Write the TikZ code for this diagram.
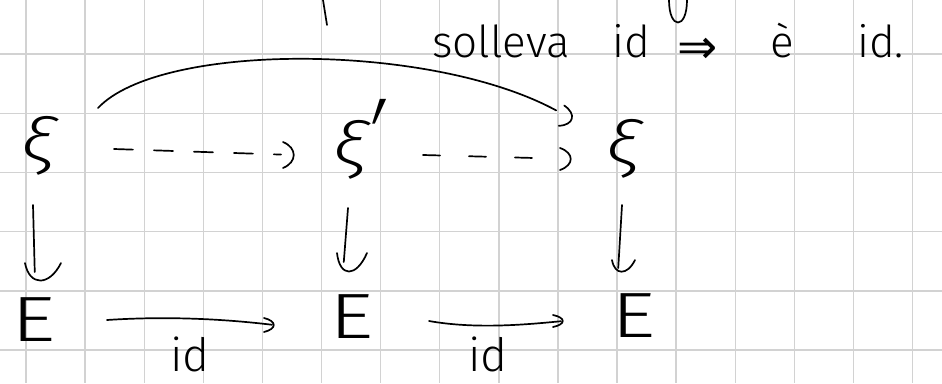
\documentclass[tikz,border=0pt]{standalone}
\usepackage{fontspec}
\setmainfont{Fira Sans}[UprightFont={* Light},ItalicFont={* Light Italic}]
\newfontfamily\symfont{DejaVu Sans}
\definecolor{gridgray}{RGB}{210,210,210}
\newcommand{\bigxi}{\fontsize{62}{62}\selectfont\itshape}
\newcommand{\bigE}{\fontsize{64}{64}\selectfont}
\newcommand{\notefont}{\fontsize{44}{44}\selectfont}
\newcommand{\labfont}{\fontsize{46}{46}\selectfont}
\newcommand{\wideE}{\scalebox{1.35}[1]{E}}
\newcommand{\widexi}{\scalebox{1.25}[1]{ξ}}
% hand-drawn ")" tip: apex at #1, pointing along canvas angle #2,
% arm extents #3 and #4 on either side, depth #5
\newcommand{\handtip}[5]{%
  \draw[ink, shift={(#1)}, rotate=#2]
    (-#5,-#3) .. controls ({0.3*#5},{-0.55*#3}) and ({0.3*#5},{0.55*#4}) .. (-#5,#4);}
\begin{document}
\begin{tikzpicture}[x=1pt,y=-1pt,
  ink/.style={line width=1.7pt, line cap=round, line join=round, black},
  gridline/.style={line width=1.4pt, gridgray},
  sym/.style={inner sep=0pt, outer sep=0pt},
  note/.style={inner sep=0pt, anchor=base west, font=\notefont},
  lab/.style={inner sep=0pt, anchor=base, font=\labfont}]
  % page and squared paper
  \fill[white] (0,0) rectangle (942,383);
  \useasboundingbox (0,0) rectangle (942,383);
  \foreach \k in {0,...,15} \draw[gridline] ({26+59.1*\k},0) -- ({26+59.1*\k},383);
  \foreach \k in {0,...,5} \draw[gridline] (0,{54+59.2*\k}) -- (942,{54+59.2*\k});

  % remains of the line above
  \draw[ink] (323,0) -- (327,25);
  \draw[ink] (669,0) .. controls (669,30) and (687,30) .. (687,0);

  % note
  \node[note] (w1) at (432,57) {solleva};
  \node[note] (w2) at (612,57) {id};
  \node[inner sep=0pt, font=\fontsize{48}{48}\selectfont\symfont] (w3) at (698,51) {⇒};
  \node[note] (w4) at (770,57) {è};
  \node[note] (w5) at (857,57) {id.};

  % objects
  \node[sym, font=\bigxi] (xi1) at (38,146) {\widexi};
  \node[sym, font=\bigxi] (xi2) at (350,150) {\widexi\rlap{\kern6pt\smash{\raisebox{-32pt}{\scalebox{0.8}[1.7]{\fontsize{80}{80}\selectfont\symfont ′}}}}};
  \node[sym, font=\bigxi] (xi3) at (623,149) {\widexi};
  \node[sym, font=\bigE] (E1) at (34,320) {\wideE};
  \node[sym, font=\bigE] (E2) at (352,317) {\wideE};
  \node[sym, font=\bigE] (E3) at (634,316) {\wideE};

  % tip points
  \coordinate (tA) at ([shift={(-56,5)}]xi2.center);
  \coordinate (tB) at ([shift={(-52,10)}]xi3.center);
  \coordinate (tC) at ([shift={(-51,-30)}]xi3.center);
  \coordinate (tD) at ([shift={(1,-39)}]E1.center);
  \coordinate (tE) at ([shift={(-9,-45)}]E2.center);
  \coordinate (tF) at ([shift={(-16,-44)}]E3.center);
  \coordinate (tG) at ([shift={(-78,8)}]E2.center);
  \coordinate (tH) at ([shift={(-71,5)}]E3.center);

  % dashed lifts
  \draw[ink, dash pattern=on 19pt off 21pt, shorten >=13pt]
    ([shift={(76,3)}]xi1.center) -- (tA);
  \handtip{tA}{0}{13}{13}{11}
  \draw[ink, dash pattern=on 17pt off 29pt, shorten >=14pt]
    ([shift={(-200,6)}]xi3.center) -- (tB);
  \handtip{tB}{0}{11}{11}{11}

  % long arc
  \draw[ink, shorten >=18pt]
    ([shift={(60,-38)}]xi1.center) .. controls (160,42) and (430,42) .. (tC);
  \handtip{tC}{-15}{11}{10}{11}

  % projections
  \draw[ink, shorten >=9pt] ([shift={(-5,59)}]xi1.center) -- (tD);
  \handtip{tD}{-90}{26}{10}{18}
  \draw[ink, shorten >=10pt] ([shift={(-2,58)}]xi2.center) -- (tE);
  \handtip{tE}{-90}{24}{6}{19}
  \draw[ink, shorten >=4pt] ([shift={(-1,56)}]xi3.center) -- (tF);
  \handtip{tF}{-90}{17}{6}{12}

  % identities
  \draw[ink, shorten >=2pt]
    ([shift={(73,0)}]E1.center) .. controls +(60,-4) and +(-50,-6) .. (tG);
  \handtip{tG}{0}{7}{7}{10}
  \draw[ink, shorten >=2pt]
    ([shift={(77,4)}]E2.center) .. controls +(45,8) and +(-40,4) .. (tH);
  \handtip{tH}{0}{6}{6}{10}
  \node[lab] (id1) at (190,371) {id};
  \node[lab] (id2) at (488,371) {id};
\end{tikzpicture}
\end{document}
